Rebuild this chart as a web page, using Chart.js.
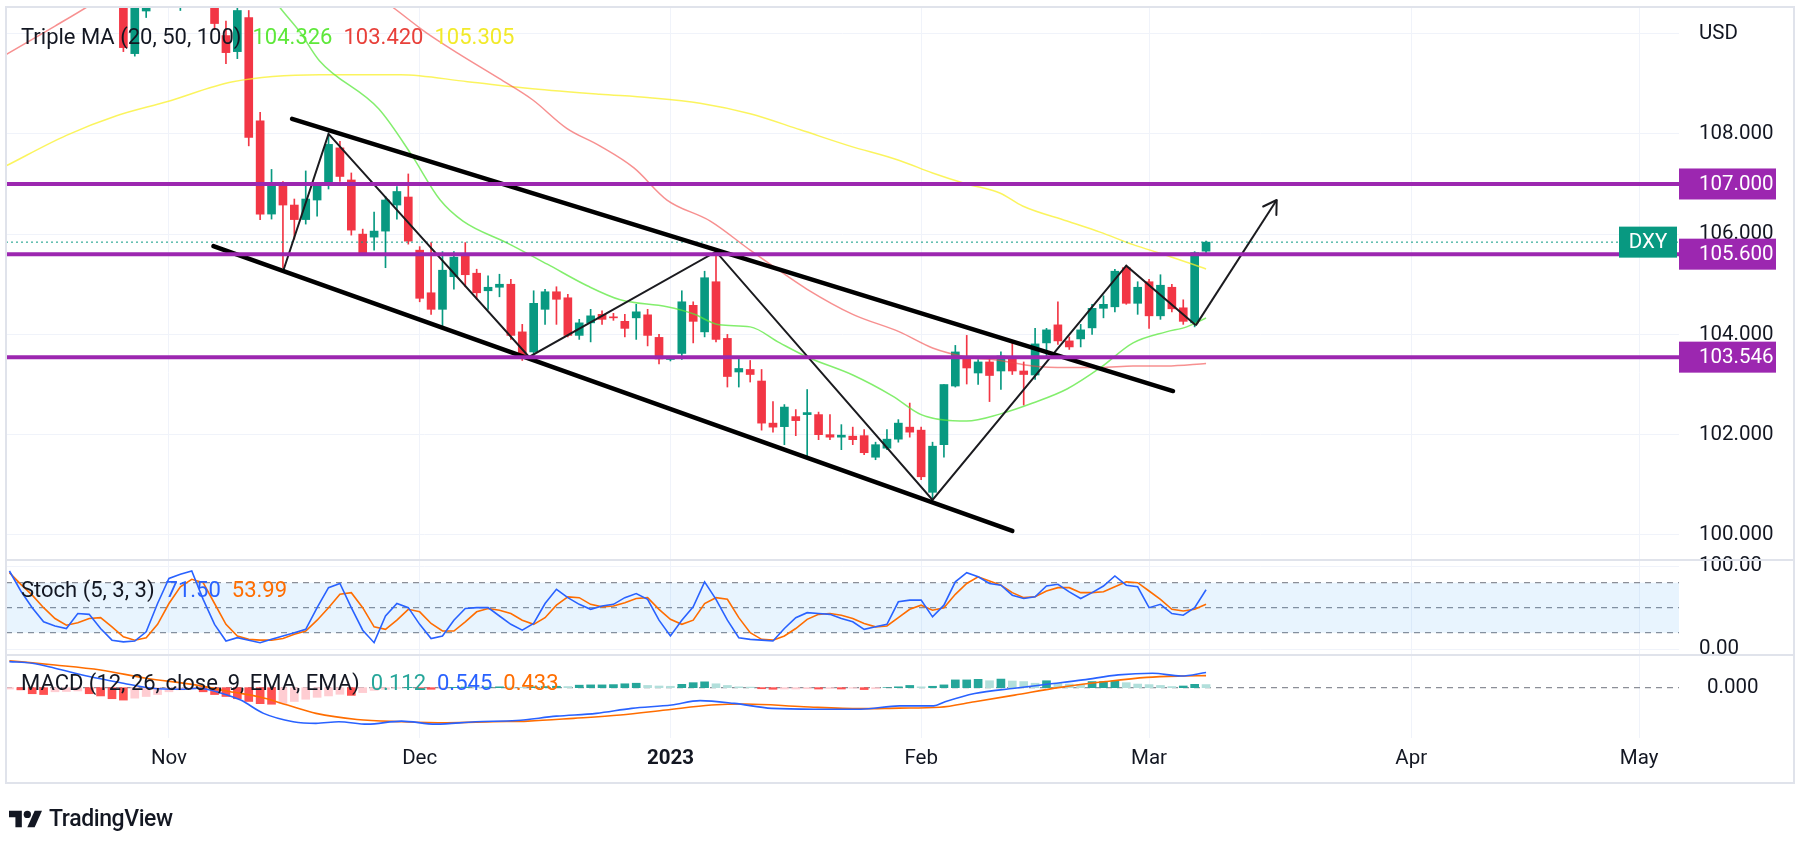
<!DOCTYPE html>
<html lang="en">

<head>
  <meta charset="UTF-8">
  <meta name="viewport" content="width=device-width, initial-scale=1.0">
  <title>DXY - Triple MA, Stoch, MACD</title>
  <script src="https://cdn.jsdelivr.net/npm/chart.js@4.4.1/dist/chart.umd.min.js"></script>
  <style>
    body { margin: 0; background: #ffffff; font-family: Roboto, "Noto Sans", sans-serif; color: #131722; }
    .tela { position: relative; width: 1800px; height: 862px; overflow: hidden; }
    #grafico { position: absolute; left: 0; top: 0; }
    .legenda { position: absolute; left: 21px; font-size: 22px; line-height: 26px; white-space: nowrap; }
    .legenda span { margin-left: 11px; }
    .logo { position: absolute; left: 9px; top: 805px; display: flex; align-items: center; font-size: 23px; font-weight: 500; letter-spacing: -0.4px; }
    .logo svg { margin-right: 7px; }
  </style>
</head>

<body>
  <div class="tela">
    <canvas id="grafico" width="1800" height="862"></canvas>
    <div class="legenda" style="top:24px">Triple MA (20, 50, 100)<span id="ma20" style="color:#5ee83a"></span><span id="ma50" style="color:#e8403a"></span><span id="ma100" style="color:#f2ea2a"></span></div>
    <div class="legenda" style="top:577px">Stoch (5, 3, 3)<span id="stK" style="color:#2962ff"></span><span id="stD" style="color:#ff6d00"></span></div>
    <div class="legenda" style="top:670px">MACD (12, 26, close, 9, EMA, EMA)<span id="mH" style="color:#26a69a"></span><span id="mL" style="color:#2962ff"></span><span id="mS" style="color:#ff6d00"></span></div>
    <div class="logo">
      <svg width="33" height="24" viewBox="0 0 36 26"><path d="M14 22H7V11H0V4h14v18z" fill="#131722"/><circle cx="20" cy="8" r="4" fill="#131722"/><path d="M28 4h8l-8 18h-8l8-18z" fill="#131722"/></svg>
      TradingView
    </div>
  </div>

<script>
  // barra 0 = 1 nov 2022, uma barra por dia util
  const primeiraBarra = -14;

  const abertura = [
    113.2, 113.2, 112.4, 113.3, 112.0, 112.1, 112.9, 112.8, 111.9, 112.0,
    110.9, 109.6, 110.45, 110.8, 111.5, 111.4, 112.0, 112.9, 110.8, 109.96,
    109.64, 110.32, 108.26, 106.4, 106.98, 106.58, 106.29, 106.68, 106.97, 107.72,
    107.08, 106.0, 105.94, 106.06, 106.58, 106.74, 105.68, 104.83, 104.5, 105.15,
    105.61, 105.22, 104.87, 104.94, 105.0, 104.05, 103.65, 104.5, 104.85, 104.73,
    103.98, 104.23, 104.4, 104.35, 104.26, 104.33, 104.39, 103.94, 103.5, 103.62,
    104.58, 104.05, 105.05, 103.92, 103.25, 103.3, 103.07, 102.23, 102.16, 102.36,
    102.4, 102.4, 102.0, 101.95, 101.97, 101.98, 101.55, 101.73, 101.91, 102.15,
    102.09, 100.85, 101.8, 102.97, 103.55, 103.23, 103.45, 103.27, 103.55, 103.27,
    103.19, 103.83, 104.19, 103.87, 103.91, 104.13, 104.52, 104.55, 105.33, 104.62,
    105.05, 104.37, 104.94, 104.53, 104.23, 105.66
  ];
  const maxima = [
    113.5, 113.9, 113.3, 113.3, 112.5, 113.1, 113.1, 113.9, 112.9, 112.1,
    111.0, 110.8, 111.0, 111.6, 111.6, 112.0, 113.0, 113.0, 111.0, 110.25,
    110.6, 110.46, 108.43, 107.29, 107.05, 106.7, 107.26, 107.0, 108.0, 107.85,
    107.22, 106.1, 106.44, 106.75, 106.95, 107.2, 105.75, 105.83, 105.65, 105.65,
    105.83, 105.3, 105.17, 105.2, 105.1, 104.2, 104.87, 104.9, 104.95, 104.8,
    104.3, 104.5, 104.47, 104.42, 104.4, 104.6, 104.5, 104.0, 103.55, 104.87,
    104.65, 105.26, 105.65, 104.0, 103.55, 103.48, 103.3, 102.66, 102.6, 102.5,
    102.9, 102.45, 102.4, 102.2, 102.15, 102.1, 101.85, 102.1, 102.3, 102.63,
    102.15, 101.85, 103.0, 103.78, 103.98, 103.5, 103.5, 103.65, 103.83, 103.45,
    104.12, 104.12, 104.65, 103.95, 104.2, 104.6, 104.77, 105.3, 105.37, 105.05,
    105.1, 105.19, 105.0, 104.69, 105.65, 105.86
  ];
  const minima = [
    112.9, 111.8, 112.2, 112.0, 111.7, 111.9, 112.5, 111.9, 111.7, 110.8,
    109.64, 109.55, 110.32, 110.6, 110.7, 110.46, 111.8, 110.62, 110.1, 109.4,
    109.5, 107.76, 106.29, 106.3, 105.33, 105.9, 106.2, 106.36, 106.9, 107.05,
    105.98, 105.6, 105.68, 105.33, 106.3, 105.8, 104.65, 104.4, 104.15, 104.9,
    104.95, 104.7, 104.5, 104.75, 103.9, 103.48, 103.55, 104.2, 104.2, 103.95,
    103.9, 103.85, 104.2, 104.28, 103.95, 103.9, 103.77, 103.41, 103.47, 103.5,
    103.83, 103.95, 103.85, 102.95, 102.95, 103.05, 102.09, 102.05, 101.8, 101.98,
    101.55, 101.9, 101.9, 101.7, 101.8, 101.6, 101.5, 101.7, 101.85, 101.95,
    101.1, 100.73, 101.55, 102.95, 103.01, 103.0, 102.66, 102.9, 103.2, 102.59,
    103.1, 103.55, 103.8, 103.7, 103.75, 104.0, 104.33, 104.45, 104.6, 104.4,
    104.12, 104.3, 104.45, 104.2, 104.15, 105.62
  ];
  const fechamento = [
    113.2, 112.4, 113.3, 112.0, 112.1, 112.9, 112.8, 111.9, 112.0, 110.9,
    109.72, 110.6, 110.8, 111.5, 111.4, 111.9, 112.9, 110.8, 110.2, 109.62,
    110.46, 107.93, 106.4, 106.98, 106.58, 106.29, 106.7, 106.98, 107.79, 107.15,
    106.08, 105.63, 106.06, 106.68, 106.85, 105.86, 104.72, 104.5, 105.28, 105.54,
    105.19, 104.83, 104.94, 105.0, 103.98, 103.59, 104.62, 104.85, 104.7, 103.98,
    104.23, 104.37, 104.3, 104.33, 104.12, 104.45, 103.98, 103.51, 103.52, 104.65,
    104.26, 105.13, 103.9, 103.16, 103.32, 103.2, 102.23, 102.15, 102.55, 102.28,
    102.44, 102.0, 101.95, 101.99, 101.9, 101.64, 101.8, 101.91, 102.23, 102.05,
    101.16, 101.77, 103.0, 103.65, 103.33, 103.45, 103.18, 103.57, 103.27, 103.2,
    103.81, 104.09, 103.87, 103.75, 104.09, 104.52, 104.6, 105.26, 104.62, 104.94,
    104.37, 104.98, 104.51, 104.26, 105.63, 105.84
  ];

  // medias moveis: [barra, valor]
  const media20 = [
    [7, 111.4], [9.7, 110.53], [11.5, 110.03], [13.2, 109.46], [18.4, 108.5], [21.2, 107.61],
    [23.8, 106.68], [25.8, 106.26], [29.7, 105.82], [33.2, 105.4], [36.7, 104.97], [39.6, 104.69],
    [43.7, 104.55], [46, 104.41], [48.3, 104.19], [51, 104.15], [53.6, 103.83], [56, 103.55],
    [60, 103.19], [63.5, 102.77], [66, 102.4], [70, 102.27], [72.9, 102.41], [75.8, 102.63],
    [78.8, 102.91], [81.7, 103.33], [84.6, 103.83], [87.5, 104.05], [89.3, 104.15], [91, 104.326]
  ];
  const media50 = [
    [-14.3, 109.58], [-10, 110.15], [-7.2, 110.53], [-4, 111.0], [6, 111.5], [17, 110.95],
    [19.6, 110.53], [22.5, 110.03], [25.4, 109.6], [29, 109.1], [31.9, 108.68], [34.9, 108.11],
    [37.8, 107.76], [40.8, 107.32], [43.7, 106.68], [47.5, 106.26], [51, 105.68], [53, 105.36],
    [56, 104.9], [60, 104.4], [64.1, 104.05], [67, 103.73], [70, 103.55], [72.9, 103.48],
    [75.8, 103.37], [78.8, 103.34], [81.7, 103.34], [84.6, 103.37], [87.5, 103.37], [91, 103.42]
  ];
  const media100 = [
    [-14.3, 107.36], [-9, 107.97], [-4.6, 108.36], [-0.2, 108.64], [5.6, 109.04], [13.2, 109.18],
    [20.3, 109.18], [26.2, 109.04], [31.9, 108.9], [37.8, 108.79], [42.2, 108.72], [46.6, 108.61],
    [51, 108.4], [55.4, 108.08], [59.7, 107.76], [64.1, 107.47], [67, 107.22], [70, 107.0],
    [72.9, 106.82], [74.9, 106.56], [78.8, 106.26], [81.7, 106.04], [84.6, 105.79], [87.5, 105.58],
    [91, 105.305]
  ];

  const stochK = [
    94, 70, 50, 33, 28, 25, 43, 42, 25, 11,
    9, 10, 21, 55, 85, 90, 94, 60, 30, 10,
    14, 11, 8, 12, 16, 20, 24, 50, 74, 79,
    50, 23, 8, 40, 55, 50, 30, 13, 16, 35,
    49, 50, 50, 40, 30, 23, 31, 55, 72, 62,
    54, 48, 52, 54, 62, 67, 60, 35, 16, 35,
    51, 81, 60, 35, 14, 12, 11, 10, 25, 38,
    44, 43, 42, 37, 33, 24, 27, 30, 57, 59,
    59, 39, 53, 81, 92, 87, 79, 77, 65, 61,
    63, 76, 78, 69, 61, 68, 76, 88, 77, 75,
    50, 54, 43, 41, 50, 71.5
  ];
  const stochD = [
    92, 78, 65, 50, 37, 29, 32, 37, 38, 27,
    15, 11, 14, 30, 55, 75, 84, 80, 55, 30,
    16, 12, 11, 11, 13, 18, 22, 35, 50, 66,
    68, 50, 27, 24, 35, 48, 45, 31, 22, 22,
    33, 45, 49, 47, 43, 35, 30, 38, 53, 63,
    62, 54, 51, 52, 56, 61, 62, 48, 36, 30,
    35, 55, 62, 60, 38, 20, 12, 11, 16, 25,
    36, 42, 43, 41, 37, 31, 27, 28, 38, 48,
    53, 47, 50, 66, 79, 87, 82, 77, 68, 62,
    63, 70, 74, 74, 68, 68, 69, 75, 81, 80,
    70, 60, 48, 46, 48, 53.99
  ];
  const bandasStoch = [80, 50, 20];

  const histograma = [
    -0.05, -0.08, -0.22, -0.25, -0.15, -0.14, -0.12, -0.22, -0.30, -0.40,
    -0.45, -0.38, -0.32, -0.25, -0.15, -0.08, -0.05, -0.15, -0.25, -0.32,
    -0.40, -0.50, -0.58, -0.60, -0.57, -0.50, -0.42, -0.35, -0.30, -0.24,
    -0.28, -0.18, -0.10, -0.06, -0.02, 0.01, -0.05, -0.06, -0.03, 0.01,
    0.02, 0.01, 0.02, 0.03, 0.02, 0.01, 0.03, 0.04, 0.05, 0.04,
    0.09, 0.10, 0.10, 0.11, 0.14, 0.16, 0.08, 0.06, 0.05, 0.12,
    0.18, 0.21, 0.14, 0.08, 0.03, 0.02, -0.04, -0.06, -0.05, -0.05,
    -0.04, -0.05, -0.03, -0.05, -0.02, -0.07, -0.04, 0.00, 0.03, 0.08,
    0.03, 0.05, 0.10, 0.28, 0.28, 0.30, 0.25, 0.31, 0.24, 0.22,
    0.16, 0.25, 0.16, 0.13, 0.12, 0.22, 0.22, 0.24, 0.18, 0.13,
    0.11, 0.08, 0.04, 0.06, 0.12, 0.112
  ];
  const linhaMacd = [
    [-14, 0.94], [-12, 0.88], [-10, 0.70], [-7, 0.40], [-4, 0.16], [-1.5, -0.02], [1, -0.06],
    [2.6, -0.02], [4.6, -0.20], [6.3, -0.45], [8.3, -0.93], [10.9, -1.23], [12.9, -1.29],
    [14.9, -1.23], [17.4, -1.32], [20.4, -1.21], [23.4, -1.32], [26.9, -1.23], [30.5, -1.19],
    [34, -1.03], [37.5, -0.93], [40.6, -0.75], [44.1, -0.63], [46.6, -0.47], [49.6, -0.57],
    [52.9, -0.75], [56.7, -0.78], [60.7, -0.78], [64.1, -0.66], [67.1, -0.66], [68.1, -0.51],
    [70.7, -0.21], [74.2, -0.02], [77.2, 0.13], [80.2, 0.28], [83.3, 0.46], [86.3, 0.52],
    [88.8, 0.42], [91, 0.545]
  ];
  const linhaSinal = [
    [-14, 0.97], [-10, 0.82], [-6, 0.64], [-2, 0.34], [2.3, 0.10], [5.3, -0.14], [7.9, -0.33],
    [10.4, -0.63], [12.9, -0.93], [16.5, -1.15], [20.4, -1.23], [24.4, -1.27], [28.5, -1.23],
    [31.5, -1.21], [35.5, -1.11], [39.6, -0.99], [43.6, -0.81], [47.6, -0.63], [50.6, -0.59],
    [55.7, -0.69], [60.7, -0.76], [64.1, -0.74], [67.6, -0.71], [70.7, -0.51], [74.2, -0.27],
    [78.2, 0.01], [82.2, 0.22], [85.8, 0.37], [88.8, 0.42], [91, 0.433]
  ];

  // desenhos feitos no grafico
  const niveis = [107.0, 105.6, 103.546];
  const canalSup = [[10.8, 108.3], [88.1, 102.87]];
  const canalInf = [[3.9, 105.76], [74.0, 100.08]];
  const zigzag = [[10.0, 105.25], [14, 108.0], [31.6, 103.55], [48, 105.65], [67, 100.7], [84, 105.37], [90.1, 104.18]];
  const seta = [[90.1, 104.18], [97.2, 106.68]];

  const mesesPos = [0, 22, 44, 66, 86, 109, 129];
  const mesesNome = ['Nov', 'Dec', '2023', 'Feb', 'Mar', 'Apr', 'May'];
  const precoTicks = [100, 102, 104, 106, 108, 110];

  const xMin = -14.3, xMax = 132.5;
  const corAlta = '#089981', corBaixa = '#f23645', roxo = '#9c27b0';

  function pontos(lista) {
    return lista.map(p => ({ x: p[0], y: p[1] }));
  }
  function porBarra(lista) {
    return lista.map((v, i) => ({ x: primeiraBarra + i, y: v }));
  }
  function horizontal(valor) {
    return [{ x: xMin, y: valor }, { x: xMax, y: valor }];
  }
  function corVela(i) {
    return fechamento[i] >= abertura[i] ? corAlta : corBaixa;
  }
  function corHist(i) {
    const h = histograma[i], ant = i > 0 ? histograma[i - 1] : h;
    if (h >= 0) return h >= ant ? '#26a69a' : '#b2dfdb';
    return h < ant ? '#ff5252' : '#ffcdd2';
  }
  function linha(dados, cor, largura, eixo, ordem, extra) {
    return Object.assign({
      type: 'line', data: dados, yAxisID: eixo, order: ordem,
      borderColor: cor, borderWidth: largura, pointRadius: 0, fill: false, tension: 0
    }, extra || {});
  }
  // largura fixa do eixo de preco e sem folga extra para os rotulos
  function ajustaEixoY(s) {
    s.width = 115;
    s.paddingTop = 0;
    s.paddingBottom = 0;
  }

  const ultimo = fechamento.length - 1;
  const ultimoPreco = fechamento[ultimo];

  const datasets = [
    // velas
    {
      type: 'bar', yAxisID: 'y', order: 5, grouped: false, barThickness: 1,
      data: abertura.map((o, i) => ({ x: primeiraBarra + i, y: [minima[i], maxima[i]] })),
      backgroundColor: ctx => corVela(ctx.dataIndex)
    },
    {
      type: 'bar', yAxisID: 'y', order: 4, grouped: false, barThickness: 8, minBarLength: 1,
      data: abertura.map((o, i) => ({ x: primeiraBarra + i, y: [o, fechamento[i]] })),
      backgroundColor: ctx => corVela(ctx.dataIndex)
    },
    // medias
    linha(pontos(media20), 'rgba(90, 232, 60, 0.75)', 1.5, 'y', 3, { cubicInterpolationMode: 'monotone' }),
    linha(pontos(media50), 'rgba(242, 70, 70, 0.6)', 1.5, 'y', 3, { cubicInterpolationMode: 'monotone' }),
    linha(pontos(media100), 'rgba(250, 240, 40, 0.75)', 1.5, 'y', 3, { cubicInterpolationMode: 'monotone' }),
    // preco atual
    linha(horizontal(ultimoPreco), corAlta, 1, 'y', 2, { borderDash: [2, 3] }),
    // desenhos
    linha(horizontal(niveis[0]), roxo, 4, 'y', 1),
    linha(horizontal(niveis[1]), roxo, 4, 'y', 1),
    linha(horizontal(niveis[2]), roxo, 4, 'y', 1),
    linha(pontos(canalSup), '#000000', 4.5, 'y', 1, { borderCapStyle: 'round' }),
    linha(pontos(canalInf), '#000000', 4.5, 'y', 1, { borderCapStyle: 'round' }),
    linha(pontos(zigzag), '#1b1b1f', 2, 'y', 1),
    linha(pontos(seta), '#1b1b1f', 2, 'y', 1),
    // stoch
    linha(horizontal(bandasStoch[0]), 'rgba(120, 123, 134, 0.85)', 1.2, 'yS', 6,
      { borderDash: [6, 5], fill: { value: bandasStoch[2] }, backgroundColor: 'rgba(33, 150, 243, 0.1)' }),
    linha(horizontal(bandasStoch[1]), 'rgba(120, 123, 134, 0.85)', 1.2, 'yS', 6, { borderDash: [6, 5] }),
    linha(horizontal(bandasStoch[2]), 'rgba(120, 123, 134, 0.85)', 1.2, 'yS', 6, { borderDash: [6, 5] }),
    linha(porBarra(stochD), '#ff6d00', 1.6, 'yS', 3),
    linha(porBarra(stochK), '#2962ff', 1.6, 'yS', 2),
    // macd
    linha(horizontal(0), 'rgba(120, 123, 134, 0.85)', 1.2, 'yM', 6, { borderDash: [6, 5] }),
    {
      type: 'bar', yAxisID: 'yM', order: 4, grouped: false, barThickness: 8,
      data: porBarra(histograma),
      backgroundColor: ctx => corHist(ctx.dataIndex)
    },
    linha(pontos(linhaSinal), '#ff6d00', 1.6, 'yM', 3, { cubicInterpolationMode: 'monotone' }),
    linha(pontos(linhaMacd), '#2962ff', 1.6, 'yM', 2, { cubicInterpolationMode: 'monotone' })
  ];

  const fonteEixo = { family: 'Roboto', size: 20.5 };

  const desenhos = {
    id: 'desenhos',
    afterDatasetsDraw(chart) {
      // ponta da seta
      const { ctx, scales } = chart;
      const x1 = scales.x.getPixelForValue(seta[0][0]), y1 = scales.y.getPixelForValue(seta[0][1]);
      const x2 = scales.x.getPixelForValue(seta[1][0]), y2 = scales.y.getPixelForValue(seta[1][1]);
      const ang = Math.atan2(y2 - y1, x2 - x1);
      ctx.save();
      ctx.strokeStyle = '#1b1b1f';
      ctx.lineWidth = 2;
      ctx.lineCap = 'round';
      ctx.lineJoin = 'round';
      ctx.beginPath();
      ctx.moveTo(x2 - 15 * Math.cos(ang - 0.55), y2 - 15 * Math.sin(ang - 0.55));
      ctx.lineTo(x2, y2);
      ctx.lineTo(x2 - 15 * Math.cos(ang + 0.55), y2 - 15 * Math.sin(ang + 0.55));
      ctx.stroke();
      ctx.restore();
    },
    afterDraw(chart) {
      const { ctx, chartArea, scales } = chart;
      ctx.save();
      // separadores dos paineis e moldura
      ctx.strokeStyle = '#e0e3eb';
      ctx.lineWidth = 2;
      [scales.y.bottom, scales.yS.bottom].forEach(yy => {
        ctx.beginPath();
        ctx.moveTo(6, yy);
        ctx.lineTo(1794, yy);
        ctx.stroke();
      });
      ctx.strokeRect(6, 7, 1788, 776);

      // etiquetas dos niveis
      ctx.font = '20.5px Roboto';
      ctx.textBaseline = 'middle';
      niveis.forEach(n => {
        const yy = scales.y.getPixelForValue(n);
        ctx.fillStyle = roxo;
        ctx.fillRect(chartArea.right, yy - 15.5, 97, 31);
        ctx.fillStyle = '#ffffff';
        ctx.textAlign = 'left';
        ctx.fillText(n.toFixed(3), chartArea.right + 20, yy + 1);
      });

      // etiqueta DXY
      const yy = scales.y.getPixelForValue(ultimoPreco);
      ctx.fillStyle = corAlta;
      ctx.fillRect(chartArea.right - 60, yy - 15.5, 58, 31);
      ctx.fillStyle = '#ffffff';
      ctx.textAlign = 'center';
      ctx.fillText('DXY', chartArea.right - 31, yy + 1);
      ctx.restore();
    }
  };

  const grafico = new Chart(document.getElementById('grafico'), {
    type: 'line',
    data: { datasets: datasets },
    options: {
      responsive: false,
      animation: false,
      devicePixelRatio: 1,
      layout: { padding: { left: 6, top: 7, right: 6, bottom: 79 } },
      plugins: { legend: { display: false }, tooltip: { enabled: false } },
      scales: {
        x: {
          type: 'linear', min: xMin, max: xMax, offset: false,
          afterBuildTicks: s => { s.ticks = mesesPos.map(v => ({ value: v })); },
          afterFit: s => { s.height = 45; s.paddingLeft = 0; s.paddingRight = 0; },
          ticks: {
            autoSkip: false, maxRotation: 0, padding: 9, color: '#131722',
            callback: v => mesesNome[mesesPos.indexOf(v)],
            font: ctx => ({
              family: 'Roboto', size: 20.5,
              weight: ctx.tick && mesesNome[mesesPos.indexOf(ctx.tick.value)] === '2023' ? 'bold' : 'normal'
            })
          },
          grid: { color: '#f0f3fa', drawTicks: false, offset: false },
          border: { display: false }
        },
        y: {
          type: 'linear', position: 'right', stack: 'paineis', stackWeight: 553,
          min: 99.5, max: 110.53,
          afterBuildTicks: s => { s.ticks = precoTicks.map(v => ({ value: v })); },
          afterFit: ajustaEixoY,
          ticks: { padding: 20, color: '#131722', font: fonteEixo, callback: v => v === 110 ? 'USD' : v.toFixed(3) },
          grid: { color: '#f0f3fa', drawTicks: false },
          border: { display: false }
        },
        yS: {
          type: 'linear', position: 'right', stack: 'paineis', stackWeight: 95,
          min: -6.8, max: 107.2,
          afterBuildTicks: s => { s.ticks = [{ value: 0 }, { value: 100 }]; },
          afterFit: ajustaEixoY,
          ticks: { padding: 20, color: '#131722', font: fonteEixo, callback: v => v.toFixed(2) },
          grid: { color: '#f0f3fa', drawTicks: false },
          border: { display: false }
        },
        yM: {
          type: 'linear', position: 'right', stack: 'paineis', stackWeight: 83,
          min: -1.82, max: 1.18,
          afterBuildTicks: s => { s.ticks = [{ value: 0 }]; },
          afterFit: ajustaEixoY,
          ticks: { padding: 20, color: '#131722', font: fonteEixo, callback: v => v.toFixed(3) },
          grid: { display: false },
          border: { display: false }
        }
      }
    },
    plugins: [desenhos]
  });

  // valores da legenda
  document.getElementById('ma20').textContent = media20[media20.length - 1][1].toFixed(3);
  document.getElementById('ma50').textContent = media50[media50.length - 1][1].toFixed(3);
  document.getElementById('ma100').textContent = media100[media100.length - 1][1].toFixed(3);
  document.getElementById('stK').textContent = stochK[ultimo].toFixed(2);
  document.getElementById('stD').textContent = stochD[ultimo].toFixed(2);
  document.getElementById('mH').textContent = histograma[ultimo].toFixed(3);
  document.getElementById('mL').textContent = linhaMacd[linhaMacd.length - 1][1].toFixed(3);
  document.getElementById('mS').textContent = linhaSinal[linhaSinal.length - 1][1].toFixed(3);
</script>
</body>

</html>
